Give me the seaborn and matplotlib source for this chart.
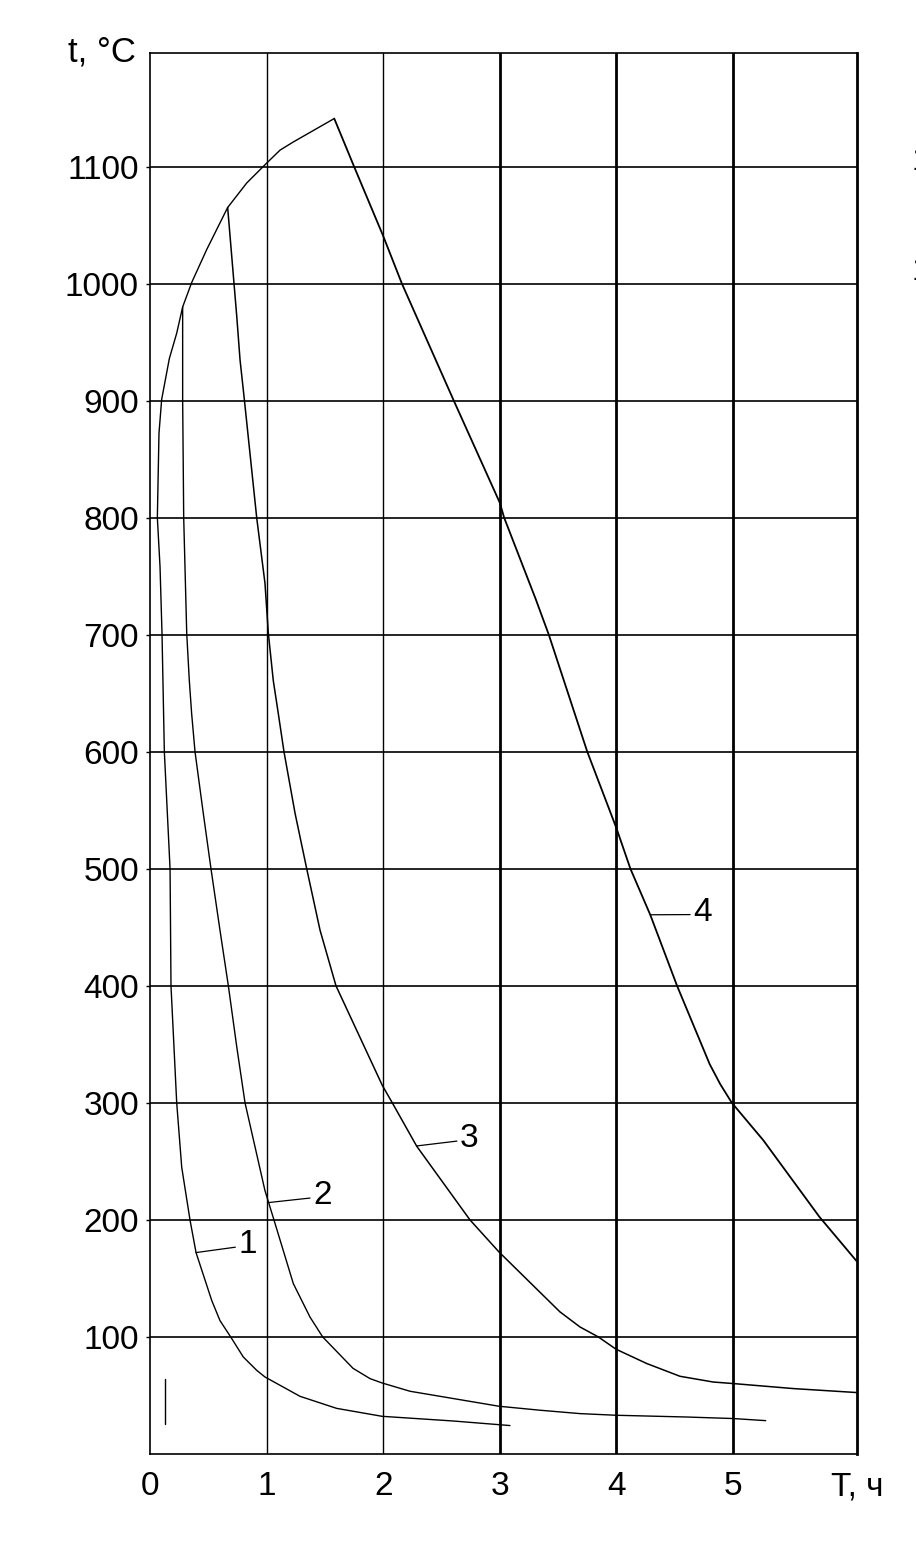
import pandas as pd
import matplotlib
matplotlib.use("Agg")
import matplotlib.pyplot as plt
import seaborn as sns

# heating envelope (t, °C vs T, h)
heat_time = [0.063, 0.077, 0.10, 0.166, 0.229, 0.28, 0.358, 0.486, 0.666, 0.83, 0.986, 1.115, 1.229, 1.58]
heat_temp = [800, 872, 901, 936, 957.6, 980, 1001, 1029, 1065, 1086, 1101.5, 1114, 1121, 1141]

# cooling curves 1-4
c1_time = [0.063, 0.086, 0.103, 0.123, 0.172, 0.18, 0.229, 0.272, 0.343, 0.395, 0.53, 0.6, 0.692,
           0.80, 0.915, 0.986, 1.286, 1.6, 1.99, 2.6, 3.087]
c1_temp = [800, 758, 701, 600, 500, 400, 300, 245, 200, 172, 131, 114, 100,
           82.9, 71.5, 65.8, 49.3, 39, 32.2, 28.2, 24.3]

c2_time = [0.28, 0.28, 0.289, 0.315, 0.337, 0.357, 0.386, 0.457, 0.523, 0.6, 0.672, 0.744, 0.815,
           0.986, 1.063, 1.229, 1.372, 1.481, 1.741, 1.887, 1.99, 2.23, 2.993, 3.345, 3.688,
           3.997, 4.603, 5.0, 5.28]
c2_temp = [980, 901, 800, 701, 661, 632.8, 600, 547.4, 500, 447.6, 400, 347.9, 300,
           225, 200, 145.6, 117, 100, 73.2, 64.4, 60.7, 53.6, 40.8, 37.4, 34.5,
           33.1, 31.6, 30.3, 28.5]

c3_time = [0.666, 0.744, 0.772, 0.809, 0.915, 0.986, 1.015, 1.057, 1.1, 1.149, 1.244, 1.344,
           1.458, 1.595, 1.992, 2.078, 2.287, 2.744, 2.993, 3.516, 3.688, 3.845, 3.997,
           4.26, 4.545, 4.83, 5.0, 5.517, 6.061]
c3_temp = [1065, 972, 935, 901, 800, 744, 701, 661, 632.8, 600, 547.4, 500,
           447.6, 400, 315, 300, 263, 200, 172.6, 121.4, 108.5, 100, 89.5,
           77.3, 66.4, 61.5, 60.2, 55.9, 52.5]

c4_time = [1.58, 1.75, 2.0, 2.16, 2.605, 3.0, 3.037, 3.307, 3.42, 3.75, 4.0, 4.12, 4.29,
           4.52, 4.80, 4.89, 4.99, 5.26, 5.74, 6.058]
c4_temp = [1141, 1100, 1040.6, 1000, 900, 812.7, 800, 730.6, 700, 600, 534.7, 500, 460.7,
           400, 333, 316, 300, 268, 202.7, 165]

# short stray mark near the origin
mark_time = [0.129, 0.129]
mark_temp = [63.8, 25.4]

# curve numbers: label, point on curve, label position
curve_labels = ["1", "2", "3", "4"]
label_anchor = [(0.395, 172.1), (1.023, 214.9), (2.287, 263.2), (4.29, 460.7)]
label_pos = [(0.76, 179.2), (1.40, 221.1), (2.66, 269.8), (4.66, 463.0)]

x_ticks = [0, 1, 2, 3, 4, 5]
y_ticks = [100, 200, 300, 400, 500, 600, 700, 800, 900, 1000, 1100]


def main():
    sns.set_theme(style="white")
    plt.rcParams["font.family"] = ["Liberation Sans", "DejaVu Sans"]
    plt.rcParams["text.color"] = "black"

    fig = plt.figure(figsize=(9.16, 15.5), dpi=100)
    ax = fig.add_axes([150 / 916, 96 / 1550, 707 / 916, 1401 / 1550])

    # grid
    for yv in y_ticks:
        ax.axhline(yv, color="black", lw=1.2, zorder=1)
    for xv, w in zip([1, 2, 3, 4, 5], [1.0, 1.0, 2.0, 2.0, 2.0]):
        ax.axvline(xv, color="black", lw=w, zorder=1)

    curves = [(heat_time, heat_temp, 1.0), (c1_time, c1_temp, 1.0), (c2_time, c2_temp, 1.0),
              (c3_time, c3_temp, 1.1), (c4_time, c4_temp, 1.3), (mark_time, mark_temp, 1.0)]
    for tx, ty, w in curves:
        df = pd.DataFrame({"T": tx, "t": ty})
        sns.lineplot(data=df, x="T", y="t", sort=False, estimator=None,
                     color="black", lw=w, ax=ax, zorder=3)

    for lab, anc, pos in zip(curve_labels, label_anchor, label_pos):
        ax.annotate(lab, xy=anc, xytext=pos, fontsize=24, ha="left", va="center", color="black",
                    arrowprops=dict(arrowstyle="-", lw=0.9, color="black",
                                    shrinkA=0, shrinkB=0, relpos=(0, 0.42)))

    ax.set_xlim(0, 6.063)
    ax.set_ylim(0, 1197)
    ax.set_xticks(x_ticks)
    ax.set_yticks(y_ticks)
    ax.set_xticklabels([str(v) for v in x_ticks], fontsize=24)
    ax.set_yticklabels([str(v) for v in y_ticks], fontsize=24)
    ax.tick_params(axis="x", length=0, pad=12, colors="black", labelcolor="black")
    ax.tick_params(axis="y", length=3, width=1, pad=5, colors="black", labelcolor="black",
                   direction="out", left=True)
    ax.set_xlabel("")
    ax.set_ylabel("")

    for side in ["left", "top", "bottom"]:
        ax.spines[side].set_color("black")
        ax.spines[side].set_linewidth(1.2)
    ax.spines["right"].set_color("black")
    ax.spines["right"].set_linewidth(2.0)

    fig.text(102 / 916, 1 - 62 / 1550, "t, °C", fontsize=25, ha="center", va="baseline")
    fig.text(857 / 916, 1 - 1496 / 1550, "T, ч", fontsize=24, ha="center", va="baseline")

    # labels of a neighbouring scale, cut by the right edge as in the source
    fig.text(911 / 916, 1 - 162 / 1550, "1100", fontsize=24, ha="left", va="center")
    fig.text(911 / 916, 1 - 272 / 1550, "1000", fontsize=24, ha="left", va="center")

    fig.savefig("out.png", dpi=100, facecolor="white")
    plt.close(fig)


if __name__ == "__main__":
    main()
